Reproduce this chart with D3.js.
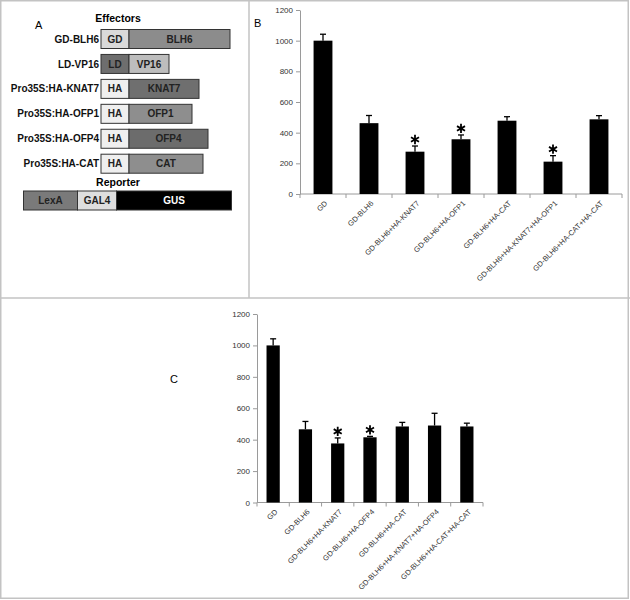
<!DOCTYPE html>
<meta charset="utf-8">
<style>
body { margin: 0; background: #fff; }
text { font-family: "Liberation Sans", Arial, sans-serif; }
.tick text { fill: #333; }
</style>
<body>
<script src="https://cdn.jsdelivr.net/npm/d3@7"></script>
<script>

// ---- data ----
// panel A: effector constructs, parts with relative lengths
var effectorNames = ["GD-BLH6", "LD-VP16", "Pro35S:HA-KNAT7", "Pro35S:HA-OFP1", "Pro35S:HA-OFP4", "Pro35S:HA-CAT"];
var effectorParts = [
  [["GD", 28], ["BLH6", 101]],
  [["LD", 28], ["VP16", 40]],
  [["HA", 28], ["KNAT7", 70]],
  [["HA", 28], ["OFP1", 63]],
  [["HA", 28], ["OFP4", 79]],
  [["HA", 28], ["CAT", 74]]
];
var reporterParts = [["LexA", 54], ["GAL4", 39], ["GUS", 115]];

// panel B
var categoriesB = ["GD", "GD-BLH6", "GD-BLH6+HA-KNAT7", "GD-BLH6+HA-OFP1", "GD-BLH6+HA-CAT", "GD-BLH6+HA-KNAT7+HA-OFP1", "GD-BLH6+HA-CAT+HA-CAT"];
var valuesB = [1000, 462, 276, 357, 478, 211, 487];
var errorsB = [42, 50, 37, 28, 26, 39, 24];
var starsB = [false, false, true, true, false, true, false];

// panel C
var categoriesC = ["GD", "GD-BLH6", "GD-BLH6+HA-KNAT7", "GD-BLH6+HA-OFP4", "GD-BLH6+HA-CAT", "GD-BLH6+HA-KNAT7+HA-OFP4", "GD-BLH6+HA-CAT+HA-CAT"];
var valuesC = [1000, 466, 376, 415, 484, 490, 484];
var errorsC = [42, 50, 35, 6, 26, 78, 21];
var starsC = [false, false, true, true, false, false, false];

var yTicks = [0, 200, 400, 600, 800, 1000, 1200];

// part fills
var partColor = {
  GD: "#d9d9d9", BLH6: "#8c8c8c", LD: "#6e6e6e", VP16: "#bdbdbd",
  HA: "#efefef", KNAT7: "#6f6f6f", OFP1: "#8e8e8e", OFP4: "#6c6c6c", CAT: "#8e8e8e",
  LexA: "#7a7a7a", GAL4: "#dedede", GUS: "#000"
};

var svg = d3.select("body").append("svg")
    .attr("width", 630)
    .attr("height", 600);

// panel frames
var frame = svg.append("g").attr("fill", "none").attr("stroke", "#c3c3c3").attr("stroke-width", 1.5);
frame.append("rect").attr("x", 0.75).attr("y", 0.75).attr("width", 627.5).attr("height", 597.5);
frame.append("line").attr("x1", 249).attr("x2", 249).attr("y1", 0).attr("y2", 298);
frame.append("line").attr("x1", 0).attr("x2", 630).attr("y1", 298).attr("y2", 298);

// ---- panel A ----
var gA = svg.append("g");
var len = d3.scaleLinear().domain([0, 100]).range([0, 100]);
var row = d3.scalePoint().domain(effectorNames).range([39, 163.7]);
var boxH = 19;

gA.append("text").attr("x", 35).attr("y", 29).attr("font-size", 11).text("A");
gA.append("text").attr("x", 118).attr("y", 22).attr("text-anchor", "middle")
    .attr("font-size", 10.5).attr("font-weight", "bold").text("Effectors");

function drawConstruct(g, parts, x0, yc) {
  var x = x0;
  parts.forEach(function(p) {
    var w = len(p[1]);
    g.append("rect").attr("x", x).attr("y", yc - boxH / 2).attr("width", w).attr("height", boxH)
        .attr("fill", partColor[p[0]]).attr("stroke", "#333").attr("stroke-width", 1);
    g.append("text").attr("x", x + w / 2).attr("y", yc).attr("dy", "0.36em")
        .attr("text-anchor", "middle").attr("font-size", 10).attr("font-weight", "bold")
        .attr("fill", p[0] === "GUS" ? "#fff" : "#222").text(p[0]);
    x += w;
  });
}

effectorNames.forEach(function(name, i) {
  var yc = row(name);
  gA.append("text").attr("x", 99).attr("y", yc).attr("dy", "0.36em").attr("text-anchor", "end")
      .attr("font-size", 10).attr("font-weight", "bold").attr("fill", "#111").text(name);
  drawConstruct(gA, effectorParts[i], 101, yc);
});

gA.append("text").attr("x", 118).attr("y", 186).attr("text-anchor", "middle")
    .attr("font-size", 10.5).attr("font-weight", "bold").text("Reporter");
drawConstruct(gA, reporterParts, 23.5, 200.5);

// ---- bar panels ----
var star = d3.symbol().type(d3.symbolAsterisk).size(60);

function barPanel(opt) {
  var g = svg.append("g");
  var x = d3.scaleBand().domain(opt.categories).range([opt.x0, opt.x1]).paddingInner(0.59).paddingOuter(0.295);
  var xb = d3.scaleBand().domain(opt.categories).range([opt.x0, opt.x1]);
  var y = d3.scaleLinear().domain([0, 1200]).range([opt.y0, opt.y1]);

  // y axis
  var ya = g.append("g").attr("transform", "translate(" + opt.x0 + ",0)")
      .call(d3.axisLeft(y).tickValues(yTicks).tickFormat(d3.format("d"))
        .tickSize(4).tickPadding(3).tickSizeOuter(0));
  ya.selectAll("line, path").attr("stroke", "#9a9a9a");
  ya.selectAll("text").attr("font-size", 8);

  // x axis with ticks at band edges
  var xa = g.append("g").attr("transform", "translate(0," + opt.y0 + ")");
  xa.append("line").attr("x1", opt.x0).attr("x2", opt.x1).attr("stroke", "#9a9a9a");
  xa.selectAll(".edge").data(opt.categories.concat([null])).enter().append("line")
      .attr("x1", function(d, i) { return i < opt.categories.length ? xb(d) : opt.x1; })
      .attr("x2", function(d, i) { return i < opt.categories.length ? xb(d) : opt.x1; })
      .attr("y1", 0).attr("y2", 4).attr("stroke", "#9a9a9a");
  xa.selectAll(".lab").data(opt.categories).enter().append("text")
      .attr("transform", function(d) {
        return "translate(" + (xb(d) + xb.bandwidth() / 2 + 3) + ",8) rotate(-45)";
      })
      .attr("text-anchor", "end").attr("dy", "0.35em")
      .attr("font-size", 7.5).attr("fill", "#333").text(function(d) { return d; });

  // bars
  g.selectAll(".bar").data(opt.categories).enter().append("rect")
      .attr("x", function(d) { return x(d); })
      .attr("width", x.bandwidth())
      .attr("y", function(d, i) { return y(opt.values[i]); })
      .attr("height", function(d, i) { return opt.y0 - y(opt.values[i]); })
      .attr("fill", "#000");

  // error bars + significance stars
  opt.categories.forEach(function(d, i) {
    var cx = x(d) + x.bandwidth() / 2;
    var top = y(opt.values[i] + opt.errors[i]);
    g.append("line").attr("x1", cx).attr("x2", cx).attr("y1", y(opt.values[i])).attr("y2", top)
        .attr("stroke", "#000").attr("stroke-width", 1.3);
    g.append("line").attr("x1", cx - 3).attr("x2", cx + 3).attr("y1", top).attr("y2", top)
        .attr("stroke", "#000").attr("stroke-width", 1.3);
    if (opt.stars[i]) {
      g.append("path").attr("d", star)
          .attr("transform", "translate(" + cx + "," + (top - 6.5) + ")")
          .attr("fill", "none").attr("stroke", "#000").attr("stroke-width", 1.8);
    }
  });

  g.append("text").attr("x", opt.lx).attr("y", opt.ly).attr("font-size", 11).text(opt.label);
}

barPanel({categories: categoriesB, values: valuesB, errors: errorsB, stars: starsB,
  x0: 300, x1: 622, y0: 194, y1: 10, label: "B", lx: 254, ly: 27});
barPanel({categories: categoriesC, values: valuesC, errors: errorsC, stars: starsC,
  x0: 257, x1: 483, y0: 502.5, y1: 314, label: "C", lx: 170, ly: 383});

</script>
</body>
